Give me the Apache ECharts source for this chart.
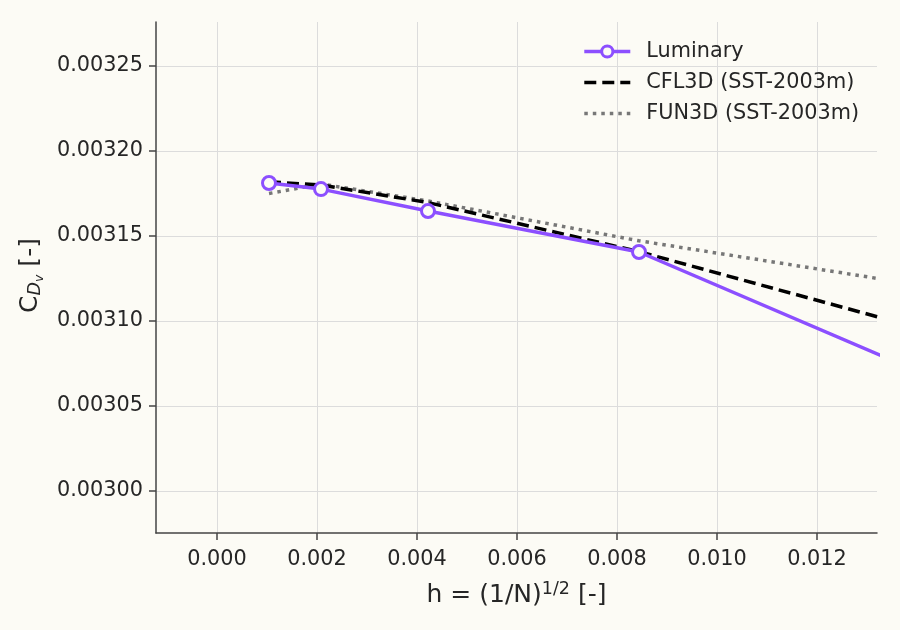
<!DOCTYPE html>
<html>
<head>
<meta charset="utf-8">
<script src="https://cdn.jsdelivr.net/npm/echarts@6/dist/echarts.min.js"></script>
<style>
html,body{margin:0;padding:0;background:#fcfbf5;}
#c{width:900px;height:630px;}
</style>
</head>
<body>
<div id="c"></div>
<script>
// data
const hValues = [0.00104, 0.00208, 0.00422, 0.00844, 0.01688];
const luminary = [0.0031812, 0.0031776, 0.0031647, 0.0031406, 0.0030344];
const cfl3d = [0.0031819, 0.0031800, 0.0031697, 0.0031408, 0.0030730];
const fun3d = [0.0031750, 0.0031806, 0.0031706, 0.0031472, 0.0031080];
const xTicks = [0.000, 0.002, 0.004, 0.006, 0.008, 0.010, 0.012];
const yTicks = [0.00300, 0.00305, 0.00310, 0.00315, 0.00320, 0.00325];

const pair = (ys) => hValues.map((h, i) => [h, ys[i]]);
const font = 'DejaVu Sans';
const axisCol = '#444';
const textCol = '#262626';
const purple = '#8c4fff';

const chart = echarts.init(document.getElementById('c'));
chart.setOption({
  backgroundColor: '#fcfbf5',
  animation: false,
  textStyle: {fontFamily: font},
  grid: {left: 156, right: 23, top: 22, bottom: 97},
  legend: {
    orient: 'vertical',
    right: 36,
    top: 36,
    itemWidth: 46,
    itemHeight: 14,
    itemGap: 10,
    textStyle: {fontFamily: font, fontSize: 20.8, color: textCol, padding: [0, 0, 0, 11]},
    data: [
      {name: 'Luminary', lineStyle: {color: purple, width: 3.5},
        itemStyle: {color: '#fcfbf5', borderColor: purple, borderWidth: 3}},
      {name: 'CFL3D (SST-2003m)', itemStyle: {opacity: 0},
        lineStyle: {color: '#000', width: 3.5, type: [12, 6]}},
      {name: 'FUN3D (SST-2003m)', itemStyle: {opacity: 0},
        lineStyle: {color: '#777', width: 3.5, type: [3.5, 5]}}
    ]
  },
  xAxis: {
    type: 'value',
    min: -0.00122,
    max: 0.0132,
    name: '{n|h = (1/N)}{sup|1/2}{n| [-]}',
    nameLocation: 'middle',
    nameGap: 47,
    nameTextStyle: {
      rich: {
        n: {fontFamily: font, fontSize: 25, color: textCol},
        sup: {fontFamily: font, fontSize: 17.5, color: textCol, verticalAlign: 'top', padding: [0, 0, 12, 0]}
      }
    },
    axisLine: {show: true, onZero: false, lineStyle: {color: axisCol, width: 1.5}},
    axisTick: {show: true, length: 7, lineStyle: {color: axisCol, width: 1.5}, customValues: xTicks},
    axisLabel: {fontFamily: font, fontSize: 20.8, color: textCol, margin: 16, customValues: xTicks,
      formatter: v => v.toFixed(3)},
    splitLine: {show: true, lineStyle: {color: '#dcdcdc', width: 1}}
  },
  yAxis: {
    type: 'value',
    min: 0.0029753,
    max: 0.0032759,
    name: '{n|C}{sub|D}{ss|v}{n| [-]}',
    nameLocation: 'middle',
    nameRotate: 90,
    nameGap: 97,
    nameTextStyle: {
      padding: [0, 0, 0, 4],
      rich: {
        n: {fontFamily: font, fontSize: 25, color: textCol},
        sub: {fontFamily: font, fontSize: 17.5, fontStyle: 'italic', color: textCol, padding: [10, 0, 0, 0]},
        ss: {fontFamily: font, fontSize: 12.5, fontStyle: 'italic', color: textCol, padding: [18, 0, 0, 0]}
      }
    },
    axisLine: {show: true, onZero: false, lineStyle: {color: axisCol, width: 1.5}},
    axisTick: {show: true, length: 7, lineStyle: {color: axisCol, width: 1.5}, customValues: yTicks},
    axisLabel: {fontFamily: font, fontSize: 20.8, color: textCol, margin: 13, customValues: yTicks,
      formatter: v => v.toFixed(5)},
    splitLine: {show: true, lineStyle: {color: '#dcdcdc', width: 1}}
  },
  series: [
    {
      name: 'Luminary', type: 'line', data: pair(luminary),
      symbol: 'circle', symbolSize: 13, showSymbol: true,
      color: purple,
      lineStyle: {color: purple, width: 3.5},
      itemStyle: {color: '#fcfbf5', borderColor: purple, borderWidth: 3},
      clip: true, z: 3
    },
    {
      name: 'CFL3D (SST-2003m)', type: 'line', data: pair(cfl3d),
      symbol: 'none', color: '#000',
      lineStyle: {color: '#000', width: 3.5, type: [12, 6]},
      clip: true, z: 2
    },
    {
      name: 'FUN3D (SST-2003m)', type: 'line', data: pair(fun3d),
      symbol: 'none', color: '#777',
      lineStyle: {color: '#777', width: 3.5, type: [3.5, 5]},
      clip: true, z: 1
    }
  ]
});
</script>
</body>
</html>
